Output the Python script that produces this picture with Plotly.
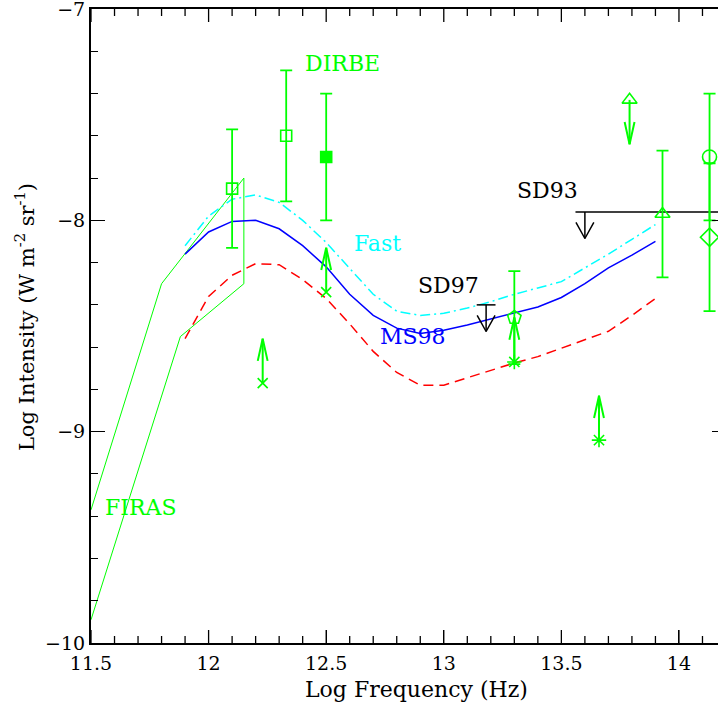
import numpy as np
import plotly.graph_objects as go

# ---------------- data ----------------
freq_model = [11.9, 12.0, 12.1, 12.2, 12.3, 12.4, 12.5, 12.6, 12.7, 12.8, 12.9,
              13.0, 13.1, 13.2, 13.3, 13.4, 13.5, 13.6, 13.7, 13.8, 13.9]
ms98 = [-8.16, -8.055, -8.005, -8.0, -8.04, -8.12, -8.22, -8.35, -8.45, -8.51, -8.535,
        -8.52, -8.495, -8.467, -8.44, -8.41, -8.365, -8.30, -8.225, -8.165, -8.10]
fast = [-8.12, -7.98, -7.90, -7.88, -7.915, -8.0, -8.105, -8.225, -8.35, -8.43, -8.45,
        -8.44, -8.415, -8.385, -8.35, -8.32, -8.29, -8.225, -8.16, -8.09, -8.02]
slow = [-8.56, -8.36, -8.26, -8.205, -8.21, -8.28, -8.37, -8.49, -8.62, -8.72, -8.78,
        -8.78, -8.745, -8.71, -8.675, -8.645, -8.605, -8.565, -8.525, -8.45, -8.37]

firas_upper_x = [11.5, 11.8, 12.15]
firas_upper_y = [-9.37, -8.30, -7.80]
firas_lower_x = [11.5, 11.88, 12.15]
firas_lower_y = [-9.89, -8.55, -8.30]

dirbe_open_x = [12.10, 12.33]
dirbe_open_y = [-7.85, -7.60]
dirbe_open_err = [0.28, 0.31]
dirbe_fill_x = [12.50]
dirbe_fill_y = [-7.70]
dirbe_fill_err = [0.30]

lowlim_x_x = [12.23, 12.50]
lowlim_x_y = [-8.77, -8.34]
lowlim_ast_x = [13.30, 13.66]
lowlim_ast_y = [-8.67, -9.04]
limit_len = 0.21

pent_x = [13.30]
pent_y = [-8.46]
pent_err = [0.22]

uplim_tri_x = [13.79]
uplim_tri_y = [-7.43]

tri_x = [13.93]
tri_y = [-7.97]
tri_err = [0.30]

circ_x = [14.13]
circ_y = [-7.70]
circ_err = [0.30]

diam_x = [14.13]
diam_y = [-8.08]
diam_err = [0.35]

sd93_x = [13.56, 14.30]
sd93_y = -7.96
sd93_arrow_x = 13.60
sd97_x = [13.14, 13.22]
sd97_y = -8.40
sd97_arrow_x = 13.18
sd_arrow_len = 0.126

labels = ["DIRBE", "Fast", "MS98", "SD97", "SD93", "FIRAS"]
label_x = [12.57, 12.72, 12.87, 13.02, 13.44, 11.71]
label_y = [-7.26, -8.11, -8.55, -8.31, -7.86, -9.36]
label_colors = ["#00ff00", "#00ffff", "#0000ff", "black", "black", "#00ff00"]

x_range = [11.5, 14.2]
y_range = [-10, -7]
x_tickvals = [11.5, 12, 12.5, 13, 13.5, 14]
x_ticktext = ["11.5", "12", "12.5", "13", "13.5", "14"]
x_minor_step = 0.1
y_tickvals = [-10, -9, -8, -7]
y_ticktext = ["\u221210", "\u22129", "\u22128", "\u22127"]

GREEN = "#00ff00"
FONT = "DejaVu Serif"
FIG_W, FIG_H = 726, 707
M_L, M_R, M_T, M_B = 91, 0, 9, 64


def arrow_paths(xs, ys, length, head_len, head_w):
    px, py = [], []
    s = 1 if length > 0 else -1
    for x, y in zip(xs, ys):
        tip = y + length
        px += [x, x, None, x - head_w, x, x + head_w, None]
        py += [y, tip, None, tip - s * head_len, tip, tip - s * head_len, None]
    return px, py


fig = go.Figure()

# FIRAS band
fig.add_trace(go.Scatter(x=firas_upper_x + firas_lower_x[::-1],
                         y=firas_upper_y + firas_lower_y[::-1],
                         mode="lines", line=dict(color=GREEN, width=1)))

# model curves
fig.add_trace(go.Scatter(x=freq_model, y=slow, mode="lines",
                         line=dict(color="#ff0000", width=1.5, dash="10px,6px")))
fig.add_trace(go.Scatter(x=freq_model, y=ms98, mode="lines",
                         line=dict(color="#0000ff", width=1.5)))
fig.add_trace(go.Scatter(x=freq_model, y=fast, mode="lines",
                         line=dict(color="#00ffff", width=1.5, dash="10px,4px,2px,4px")))

# limit arrows (green)
ax1, ay1 = arrow_paths(lowlim_x_x + lowlim_ast_x, lowlim_x_y + lowlim_ast_y,
                       limit_len, 0.105, 0.021)
ax2, ay2 = arrow_paths(uplim_tri_x, uplim_tri_y, -limit_len, 0.105, 0.021)
fig.add_trace(go.Scatter(x=ax1 + ax2, y=ay1 + ay2, mode="lines",
                         line=dict(color=GREEN, width=2)))

# SD93 / SD97 upper limits (black)
bx1, by1 = arrow_paths([sd93_arrow_x, sd97_arrow_x], [sd93_y, sd97_y],
                       -sd_arrow_len, 0.076, 0.038)
fig.add_trace(go.Scatter(x=bx1 + sd93_x + [None] + sd97_x,
                         y=by1 + [sd93_y, sd93_y, None, sd97_y, sd97_y],
                         mode="lines", line=dict(color="black", width=1.5)))


def errpts(x, y, err, symbol, size):
    fig.add_trace(go.Scatter(
        x=x, y=y, mode="markers",
        marker=dict(symbol=symbol, size=size, color=GREEN,
                    line=dict(color=GREEN, width=1.6)),
        error_y=dict(type="data", array=err, visible=True, color=GREEN,
                     thickness=1.8, width=6) if err is not None else None))


errpts(dirbe_open_x, dirbe_open_y, dirbe_open_err, "square-open", 11)
errpts(dirbe_fill_x, dirbe_fill_y, dirbe_fill_err, "square", 11)
errpts(pent_x, pent_y, pent_err, "pentagon-open", 14)
errpts(tri_x, tri_y, tri_err, "triangle-up-open", 13)
errpts(circ_x, circ_y, circ_err, "circle-open", 14)
errpts(diam_x, diam_y, diam_err, "diamond-open", 14)
errpts(uplim_tri_x, uplim_tri_y, None, "triangle-up-open", 13)
errpts(lowlim_x_x, lowlim_x_y, None, "x-thin-open", 10)
errpts(lowlim_ast_x, lowlim_ast_y, None, "asterisk-open", 12)

# x-axis tick marks on bottom and top frame edges, built from the tick spacing
px_per_unit = (FIG_H - M_T - M_B) / (y_range[1] - y_range[0])
major_len, minor_len = 13 / px_per_unit, 7 / px_per_unit
all_ticks = np.round(np.arange(x_range[0], x_range[1] + 1e-9, x_minor_step), 3)
tx, ty = [], []
for v in all_ticks:
    ln = major_len if np.isclose(v, x_tickvals).any() else minor_len
    tx += [v, v, None, v, v, None]
    ty += [y_range[0], y_range[0] + ln, None, y_range[1], y_range[1] - ln, None]
fig.add_trace(go.Scatter(x=tx, y=ty, mode="lines", hoverinfo="skip",
                         line=dict(color="black", width=1.3)))

# invisible trace for the right tick axis
fig.add_trace(go.Scatter(x=[11.6], y=[-9.5], yaxis="y2", mode="markers",
                         marker=dict(opacity=0), hoverinfo="skip"))

for t, x, y, c in zip(labels, label_x, label_y, label_colors):
    fig.add_annotation(x=x, y=y, text=t, showarrow=False,
                       font=dict(family=FONT, size=22, color=c))

# axis titles as paper annotations
fig.add_annotation(xref="paper", yref="paper", x=0.513, y=-0.073, yanchor="middle",
                   text="Log Frequency (Hz)", showarrow=False,
                   font=dict(family=FONT, size=22, color="black"))
fig.add_annotation(xref="paper", yref="paper", x=-0.104, y=0.514, xanchor="center",
                   yanchor="middle", textangle=-90,
                   text="Log Intensity (W m<sup>-2</sup> sr<sup>-1</sup>)", showarrow=False,
                   font=dict(family=FONT, size=21, color="black"))

tick_common = dict(showgrid=False, zeroline=False, automargin=False,
                   tickwidth=1.3, tickcolor="black")

fig.update_layout(
    width=FIG_W, height=FIG_H,
    margin=dict(l=M_L, r=M_R, t=M_T, b=M_B, autoexpand=False),
    paper_bgcolor="white", plot_bgcolor="white",
    showlegend=False,
    font=dict(family=FONT, color="black"),
    xaxis=dict(range=x_range, **tick_common,
               showline=True, linecolor="black", linewidth=2, mirror=True,
               ticks="inside", ticklen=13, tickmode="array",
               tickvals=x_tickvals, ticktext=x_ticktext,
               tickfont=dict(family=FONT, size=19),
               ticklabelstandoff=2),
    yaxis=dict(range=y_range, **tick_common,
               showline=True, linecolor="black", linewidth=2, mirror=False,
               ticks="inside", ticklen=14,
               tickvals=y_tickvals, ticktext=y_ticktext,
               minor=dict(ticks="inside", ticklen=7, tickwidth=1.3, tickcolor="black",
                          dtick=0.2, tick0=-10, showgrid=False),
               tickfont=dict(family=FONT, size=19),
               ticklabeloverflow="allow",
               ticklabelstandoff=0),
    yaxis2=dict(range=y_range, **tick_common, overlaying="y", side="right",
                anchor="x", showline=False, ticks="inside", ticklen=14,
                tickvals=y_tickvals, showticklabels=False),
)

fig.write_html("out.html", config={"displayModeBar": False},
               post_script="document.body.style.margin='0px';"
                           "document.body.style.overflow='hidden';")
